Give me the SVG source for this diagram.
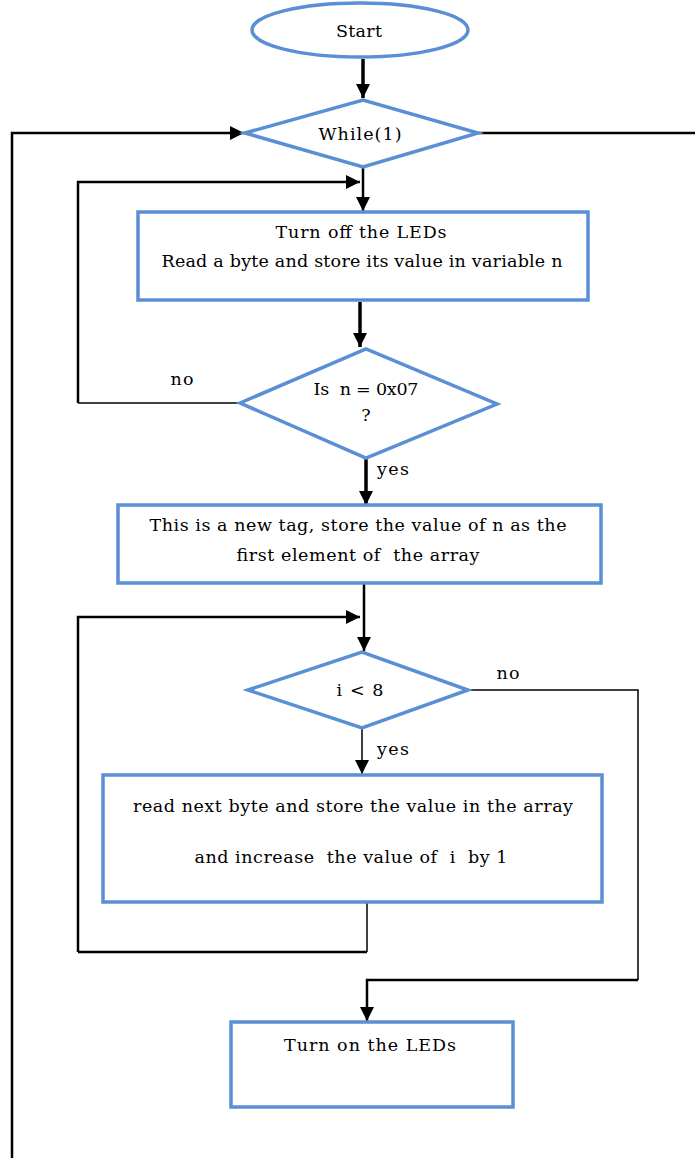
<svg xmlns="http://www.w3.org/2000/svg" width="695" height="1158" viewBox="0 0 695 1158">
<defs>
<marker id="ah" viewBox="0 0 10 10" refX="10" refY="5" markerWidth="14" markerHeight="14" markerUnits="userSpaceOnUse" orient="auto"><path d="M0,0 L10,5 L0,10 z" fill="#000"/></marker>
<style>
.n{fill:#fff;stroke:#5a8fd6;stroke-width:3.5}
.t{font-family:"DejaVu Serif","Liberation Serif",serif;font-size:17.5px;fill:#000;text-anchor:middle;white-space:pre}
.l{fill:none;stroke:#000;stroke-linejoin:miter}
.k{stroke-width:3.5}
.m{stroke-width:2.5}
.s{stroke-width:1.5}
</style>
</defs>
<rect width="695" height="1158" fill="#fff"/>
<g id="connectors">
<path class="l k" d="M363,59 V98" marker-end="url(#ah)"/>
<path class="l m" d="M12,1158 V133 H244" marker-end="url(#ah)"/>
<path class="l m" d="M478,133 H695"/>
<path class="l m" d="M363,167 V211" marker-end="url(#ah)"/>
<path class="l m" d="M78,403 V182 H360" marker-end="url(#ah)"/>
<path class="l s" d="M240,403 H78"/>
<path class="l k" d="M360,302 V347" marker-end="url(#ah)"/>
<path class="l k" d="M366,458 V505" marker-end="url(#ah)"/>
<path class="l m" d="M364,584 V651" marker-end="url(#ah)"/>
<path class="l m" d="M78,952 V617 H360" marker-end="url(#ah)"/>
<path class="l s" d="M367,902 V952"/>
<path class="l m" d="M367,952 H78"/>
<path class="l s" d="M362,728 V774" marker-end="url(#ah)"/>
<path class="l s" d="M468,690 H638 V980"/>
<path class="l m" d="M638,980 H367 V1021" marker-end="url(#ah)"/>
</g>
<g id="start">
<ellipse class="n" cx="360" cy="30" rx="108" ry="27"/>
<text class="t" x="359" y="37" textLength="46">Start</text>
</g>
<g id="while">
<polygon class="n" points="245,133 363,100 478,133 363,167"/>
<text class="t" x="360" y="140" textLength="83">While(1)</text>
</g>
<g id="box1">
<rect class="n" x="138" y="212" width="450" height="88"/>
<text class="t" x="361" y="238" textLength="171">Turn off the LEDs</text>
<text class="t" x="362" y="267" textLength="401">Read a byte and store its value in variable n</text>
</g>
<g id="dec1">
<polygon class="n" points="240,403 366,349 497,404 366,458"/>
<text class="t" x="366" y="395" textLength="105">Is  n = 0x07</text>
<text class="t" x="366" y="421">?</text>
<text class="t" x="182" y="385" textLength="23">no</text>
<text class="t" x="393" y="475" textLength="32">yes</text>
</g>
<g id="box2">
<rect class="n" x="118" y="505" width="483" height="78"/>
<text class="t" x="358" y="531" textLength="417">This is a new tag, store the value of n as the</text>
<text class="t" x="358" y="561" textLength="243">first element of  the array</text>
</g>
<g id="dec2">
<polygon class="n" points="248,690 362,652 468,690 362,728"/>
<text class="t" x="360" y="696" textLength="47">i &lt; 8</text>
<text class="t" x="508" y="679" textLength="23">no</text>
<text class="t" x="393" y="755" textLength="32">yes</text>
</g>
<g id="box3">
<rect class="n" x="103" y="775" width="499" height="127"/>
<text class="t" x="353" y="812" textLength="440">read next byte and store the value in the array</text>
<text class="t" x="351" y="863" textLength="313">and increase  the value of  i  by 1</text>
</g>
<g id="box4">
<rect class="n" x="231" y="1022" width="282" height="85"/>
<text class="t" x="370" y="1051" textLength="172">Turn on the LEDs</text>
</g>
</svg>
